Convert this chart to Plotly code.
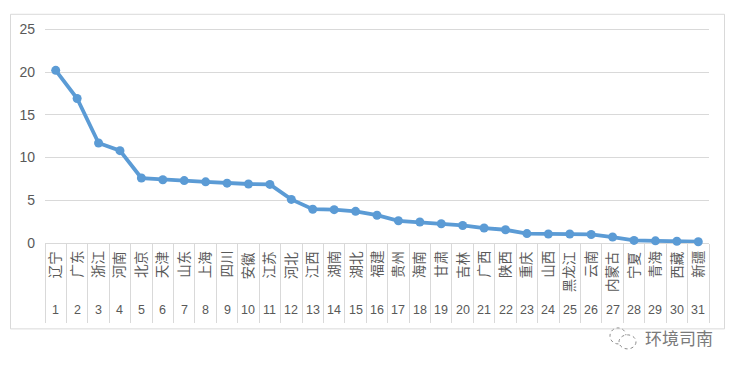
import plotly.graph_objects as go

provinces = ["辽宁","广东","浙江","河南","北京","天津","山东","上海","四川","安徽","江苏","河北","江西","湖南","湖北","福建","贵州","海南","甘肃","吉林","广西","陕西","重庆","山西","黑龙江","云南","内蒙古","宁夏","青海","西藏","新疆"]
ranks = list(range(1, 32))
values = [20.2,16.9,11.7,10.8,7.6,7.4,7.3,7.15,7.0,6.9,6.85,5.1,3.95,3.9,3.7,3.25,2.6,2.45,2.25,2.05,1.75,1.55,1.1,1.05,1.05,1.0,0.7,0.3,0.25,0.2,0.15]
y_ticks = [0, 5, 10, 15, 20, 25]

W, H = 738, 371
L, R, T, B = 45, 709, 24.72, 243
px = lambda x: (x - L) / (R - L)
py = lambda y: (B - y) / (B - T)

TXT = "#595959"
LINE = "#d9d9d9"
BLUE = "#5b9bd5"
NUM = "Liberation Sans, Arial, sans-serif"
CJK = "Noto Sans CJK SC, sans-serif"

fig = go.Figure(go.Scatter(
    x=ranks, y=values, mode="lines+markers",
    line=dict(color=BLUE, width=3.8),
    marker=dict(color=BLUE, size=9),
    hoverinfo="skip", cliponaxis=False,
))

annotations = []
for r, name in zip(ranks, provinces):
    annotations.append(dict(x=r, y=py(249), xref="x", yref="paper", text=name, showarrow=False,
                            textangle=-90, xanchor="center", yanchor="top", xshift=-1,
                            font=dict(family=CJK, size=13.5, color=TXT)))
    annotations.append(dict(x=r, y=py(310), xref="x", yref="paper", text=str(r), showarrow=False,
                            xanchor="center", yanchor="middle",
                            font=dict(family=NUM, size=12.5, color=TXT)))
annotations.append(dict(x=px(679), y=py(338), xref="paper", yref="paper", text="环境司南", showarrow=False,
                        xanchor="center", yanchor="middle",
                        font=dict(family=CJK, size=17, color="#7a7a7a")))

shapes = [
    dict(type="rect", xref="paper", yref="paper", x0=px(10.5), x1=px(724.5), y0=py(329), y1=py(14),
         line=dict(color=LINE, width=1), fillcolor="rgba(0,0,0,0)", layer="below"),
    dict(type="circle", xref="paper", yref="paper", x0=px(610), x1=px(626), y0=py(344), y1=py(328),
         line=dict(color="#8a8a8a", width=1, dash="dot")),
    dict(type="circle", xref="paper", yref="paper", x0=px(619), x1=px(636), y0=py(349), y1=py(335),
         line=dict(color="#8a8a8a", width=1, dash="dot"), fillcolor="white"),
]

fig.update_layout(
    width=W, height=H, margin=dict(l=L, r=W - R, t=T, b=H - B, autoexpand=False),
    autosize=False, showlegend=False, paper_bgcolor="white", plot_bgcolor="white",
    xaxis=dict(range=[0.5, 31.5], tick0=0.5, dtick=1, ticks="outside", ticklen=79, tickwidth=1,
               tickcolor=LINE, showticklabels=False, showgrid=False, zeroline=False,
               showline=True, linecolor=LINE, linewidth=1, layer="below traces"),
    yaxis=dict(range=[0, 25.5], tickvals=y_ticks, ticks="", ticklabelstandoff=9,
               tickfont=dict(family=NUM, size=14, color=TXT), layer="below traces",
               showgrid=True, gridcolor=LINE, gridwidth=1, zeroline=False, showline=False),
    annotations=annotations, shapes=shapes,
)

fig.write_html("out.html", config=dict(displayModeBar=False),
               post_script="document.body.style.margin='0';document.documentElement.style.overflow='hidden';")
